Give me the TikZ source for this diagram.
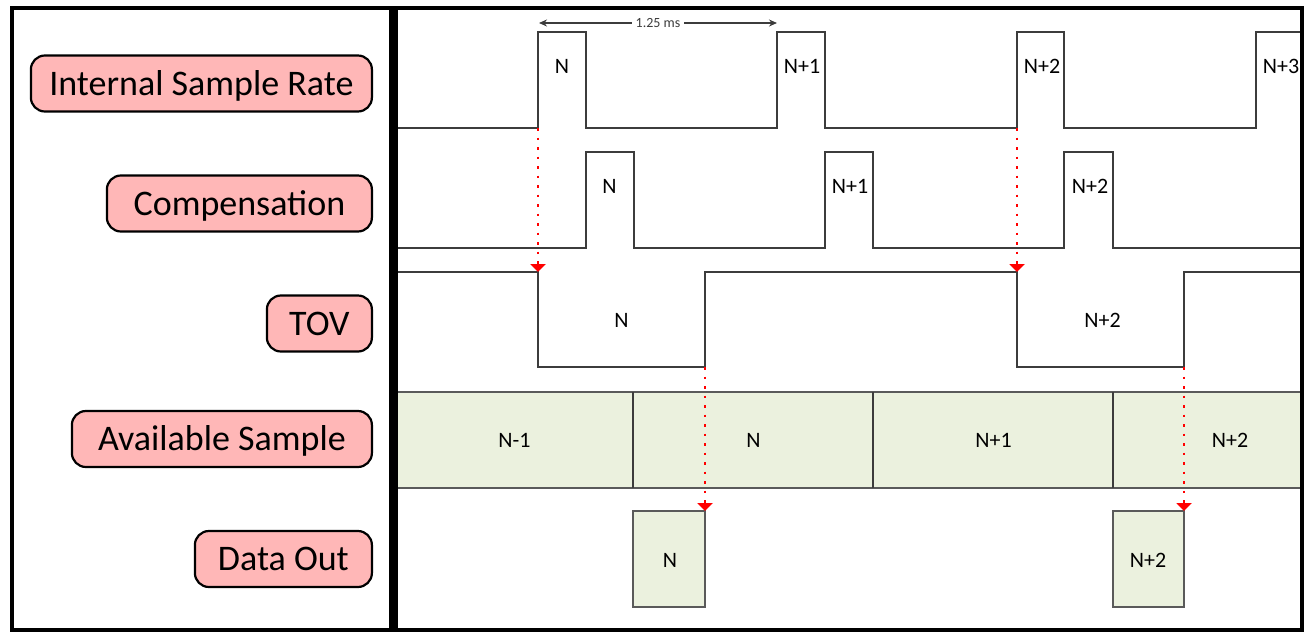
\documentclass[tikz,border=0pt]{standalone}
\usepackage{fontspec}
\setmainfont{Carlito}
\usetikzlibrary{arrows.meta}
\definecolor{sigcol}{HTML}{3C3C3C}
\definecolor{pinkfill}{HTML}{FFB7B7}
\definecolor{greenfill}{HTML}{EBF1DE}
\definecolor{bandline}{HTML}{5A5A5A}
\begin{document}
\begin{tikzpicture}[x=1pt,y=-1pt,
  sig/.style={draw=sigcol, line width=2pt, line join=miter},
  lab/.style={draw=black, line width=2.2pt, fill=pinkfill, rounded corners=14pt,
    font=\fontsize{36}{40}\selectfont, text height=23pt, text depth=0pt,
    minimum height=56pt, inner xsep=0pt, anchor=east},
  tag/.style={font=\fontsize{22}{24}\selectfont, text height=14.5pt, text depth=0pt, inner sep=0pt},
  trig/.style={draw=red, line width=2pt, dash pattern=on 2.5pt off 7pt,
    -{Triangle[width=15pt,length=8pt,fill=red]}},
  dimline/.style={draw=sigcol, line width=1.5pt, {Stealth[length=8pt,width=7pt]}-{Stealth[length=8pt,width=7pt]}},
  box/.style={draw=bandline, line width=2pt, fill=greenfill},
  frame/.style={draw=black, line width=4.5pt, line join=miter}
]
\useasboundingbox (0,0) rectangle (1311,637);

% available sample band
\path[box] (396,392) rectangle (1302,488);
\foreach \xx in {633,873,1113} \draw[draw=sigcol, line width=2pt] (\xx,392) -- (\xx,488);

% data out boxes
\path[box] (633,511) rectangle (705,607);
\path[box] (1113,511) rectangle (1184,607);

% signals
\draw[sig] (396,128) -- (538,128) -- (538,32) -- (586,32) -- (586,128) -- (777,128) -- (777,32) -- (825,32) -- (825,128) -- (1017,128) -- (1017,32) -- (1064,32) -- (1064,128) -- (1256,128) -- (1256,32) -- (1302,32);
\draw[sig] (396,248) -- (586,248) -- (586,152) -- (634,152) -- (634,248) -- (825,248) -- (825,152) -- (873,152) -- (873,248) -- (1064,248) -- (1064,152) -- (1113,152) -- (1113,248) -- (1302,248);
\draw[sig] (396,272) -- (538,272) -- (538,367) -- (705,367) -- (705,272) -- (1017,272) -- (1017,367) -- (1184,367) -- (1184,272) -- (1302,272);

% trigger arrows
\coordinate (isrA) at (538,128);
\coordinate (tovA) at (538,272);
\coordinate (isrB) at (1017,128);
\coordinate (tovB) at (1017,272);
\coordinate (tovC) at (705,367);
\coordinate (doA) at (705,511);
\coordinate (tovD) at (1184,367);
\coordinate (doB) at (1184,511);
\draw[trig] (isrA) -- (tovA);
\draw[trig] (isrB) -- (tovB);
\draw[trig] (tovC) -- (doA);
\draw[trig] (tovD) -- (doB);

% period dimension
\coordinate (dimA) at (539,23);
\coordinate (dimB) at (777,23);
\draw[dimline] (dimA) -- (dimB) node[midway, fill=white, inner xsep=4pt, inner ysep=1pt, font=\fontsize{14}{16}\selectfont, text=sigcol] (dimtxt) {1.25 ms};

% pulse tags
\node[tag] (i1) at (562,66.5) {N};
\node[tag] (i2) at (802,66.5) {N+1};
\node[tag] (i3) at (1042,66.5) {N+2};
\node[tag] (i4) at (1281,66.5) {N+3};
\node[tag] (c1) at (609.5,186) {N};
\node[tag] (c2) at (850,186) {N+1};
\node[tag] (c3) at (1090,186) {N+2};
\node[tag] (t1) at (621.5,320) {N};
\node[tag] (t2) at (1102.5,320) {N+2};
\node[tag] (a1) at (514.5,440) {N-1};
\node[tag] (a2) at (753.5,440) {N};
\node[tag] (a3) at (993.5,440) {N+1};
\node[tag] (a4) at (1230,440) {N+2};
\node[tag] (d1) at (670,560) {N};
\node[tag] (d2) at (1148,560) {N+2};

% signal names
\node[lab, minimum width=341pt] (lisr) at (373,83.5) {Internal Sample Rate};
\node[lab, minimum width=265pt] (lcomp) at (373,203.5) {Compensation};
\node[lab, minimum width=105pt] (ltov) at (373,323.5) {TOV};
\node[lab, minimum width=300pt] (lavail) at (373,439) {Available Sample};
\node[lab, minimum width=177pt] (ldata) at (373,559) {Data Out};

% frames
\draw[frame] (12,8) rectangle (391.5,630);
\draw[frame] (395.5,8) rectangle (1302,630);
\end{tikzpicture}
\end{document}
